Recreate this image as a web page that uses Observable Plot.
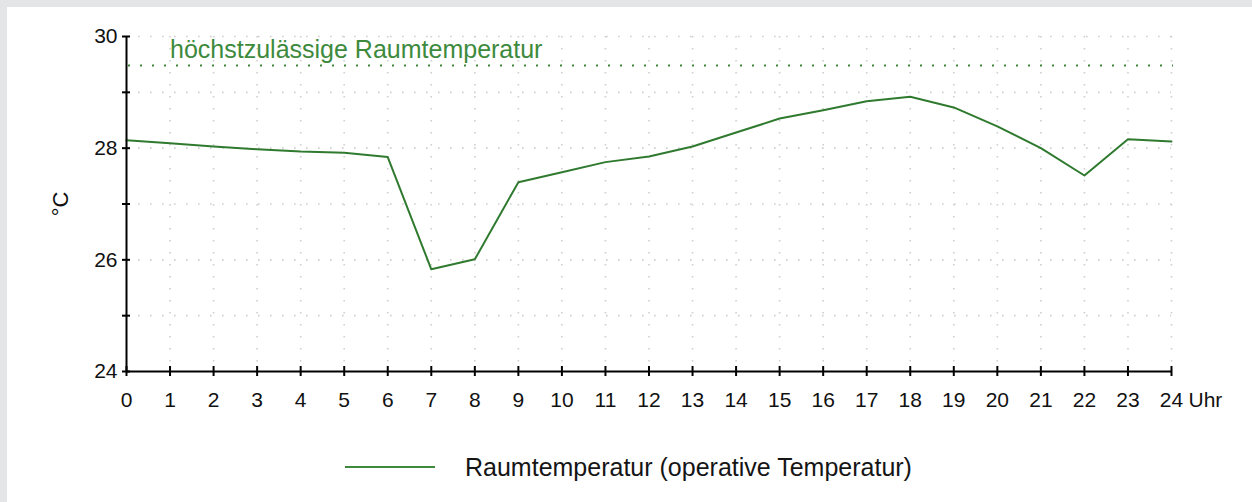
<!DOCTYPE html>
<html>
<head>
<meta charset="utf-8">
<script src="https://cdn.jsdelivr.net/npm/d3@7"></script>
<script src="https://cdn.jsdelivr.net/npm/@observablehq/plot@0.6"></script>
<style>
  html, body { margin: 0; padding: 0; background: #fff; }
  #frame {
    position: relative;
    width: 1245px; height: 495px;
    border-top: 7px solid #e4e5e7;
    border-left: 7px solid #e4e5e7;
    background: #fff;
    font-family: "Liberation Sans", Arial, sans-serif;
  }
  #chart svg { display: block; }
  #legend { position: absolute; left: 338px; top: 444px; height: 32px; display: flex; align-items: center; }
  #legend .sw { width: 90px; height: 0; border-top: 2px solid #3d8a3d; }
  #legend .lb { margin-left: 30px; font-size: 25px; color: #151515; }
</style>
</head>
<body>
<div id="frame">
  <div id="chart"></div>
  <div id="legend"><span class="sw"></span><span class="lb" id="legendLabel"></span></div>
</div>
<script>
// ---- data ----
const hours = [0,1,2,3,4,5,6,7,8,9,10,11,12,13,14,15,16,17,18,19,20,21,22,23,24];
const temps = [28.14,28.09,28.03,27.98,27.94,27.92,27.84,25.83,26.01,27.39,27.57,27.75,27.85,28.03,28.28,28.53,28.68,28.84,28.92,28.73,28.39,28.00,27.51,28.16,28.12];
const yLabelTicks = [24,26,28,30];
const yAllTicks = [24,25,26,27,28,29,30];
const gridYValues = [25,26,27,28,29,30];
const gridXValues = [1,2,3,4,5,6,7,8,9,10,11,12,13,14,15,16,17,18,19,20,21,22,23,24];
const maxTemp = 29.5;
const maxTempLabel = "höchstzulässige Raumtemperatur";
const seriesLabel = "Raumtemperatur (operative Temperatur)";
const xUnit = "Uhr";
const yUnit = "°C";

const rows = hours.map((h, i) => ({h, t: temps[i]}));
const green = "#3d8a3d";

const chart = Plot.plot({
  width: 1245,
  height: 420,
  marginLeft: 119,
  marginRight: 81,
  marginTop: 29,
  marginBottom: 56,
  style: {fontFamily: "'Liberation Sans', Arial, sans-serif", fontSize: "21px", background: "#fff", color: "#111", overflow: "visible"},
  x: {domain: [0, 24]},
  y: {domain: [24, 30]},
  marks: [
    Plot.gridX(gridXValues, {stroke: "#cfcfcf", strokeOpacity: 1, strokeWidth: 1.6, strokeDasharray: "1.6,10.4"}),
    Plot.gridY(gridYValues, {stroke: "#cfcfcf", strokeOpacity: 1, strokeWidth: 1.6, strokeDasharray: "1.6,10.4", x1: 0, x2: 24}),
    Plot.ruleY([maxTemp], {x1: 0, x2: 24, stroke: green, strokeWidth: 2, strokeDasharray: "2,10", dx: 2, dy: 1}),
    Plot.text([maxTempLabel], {x: 1, y: maxTemp, text: d => d, textAnchor: "start", fill: green, fontSize: 25, dy: -14}),
    Plot.line(rows, {x: "h", y: "t", stroke: "#2f7a2f", strokeWidth: 2}),
    Plot.ruleX([0], {stroke: "#000", strokeWidth: 2}),
    Plot.ruleY([24], {stroke: "#000", strokeWidth: 2}),
    Plot.ruleX(hours, {x: d => d, y1: 24, y2: 24, insetTop: -5, insetBottom: -5, stroke: "#000", strokeWidth: 2}),
    Plot.ruleY(yAllTicks, {y: d => d, x1: 0, x2: 0, insetLeft: -4, insetRight: -4, stroke: "#000", strokeWidth: 2}),
    Plot.axisX(hours, {tickSize: 0, tickPadding: 21, tickFormat: d => String(d), fontSize: 21, label: null}),
    Plot.axisY(yLabelTicks, {tickSize: 0, tickPadding: 9, tickFormat: d => String(d), fontSize: 21, label: null}),
    Plot.text([xUnit], {x: 24, y: 24, text: d => d, textAnchor: "start", dx: 17, dy: 29, fontSize: 21}),
    Plot.text([yUnit], {x: 0, y: 27, text: d => d, rotate: -90, dx: -66, fontSize: 22})
  ]
});
document.getElementById("chart").appendChild(chart);
document.getElementById("legendLabel").textContent = seriesLabel;
</script>
</body>
</html>
